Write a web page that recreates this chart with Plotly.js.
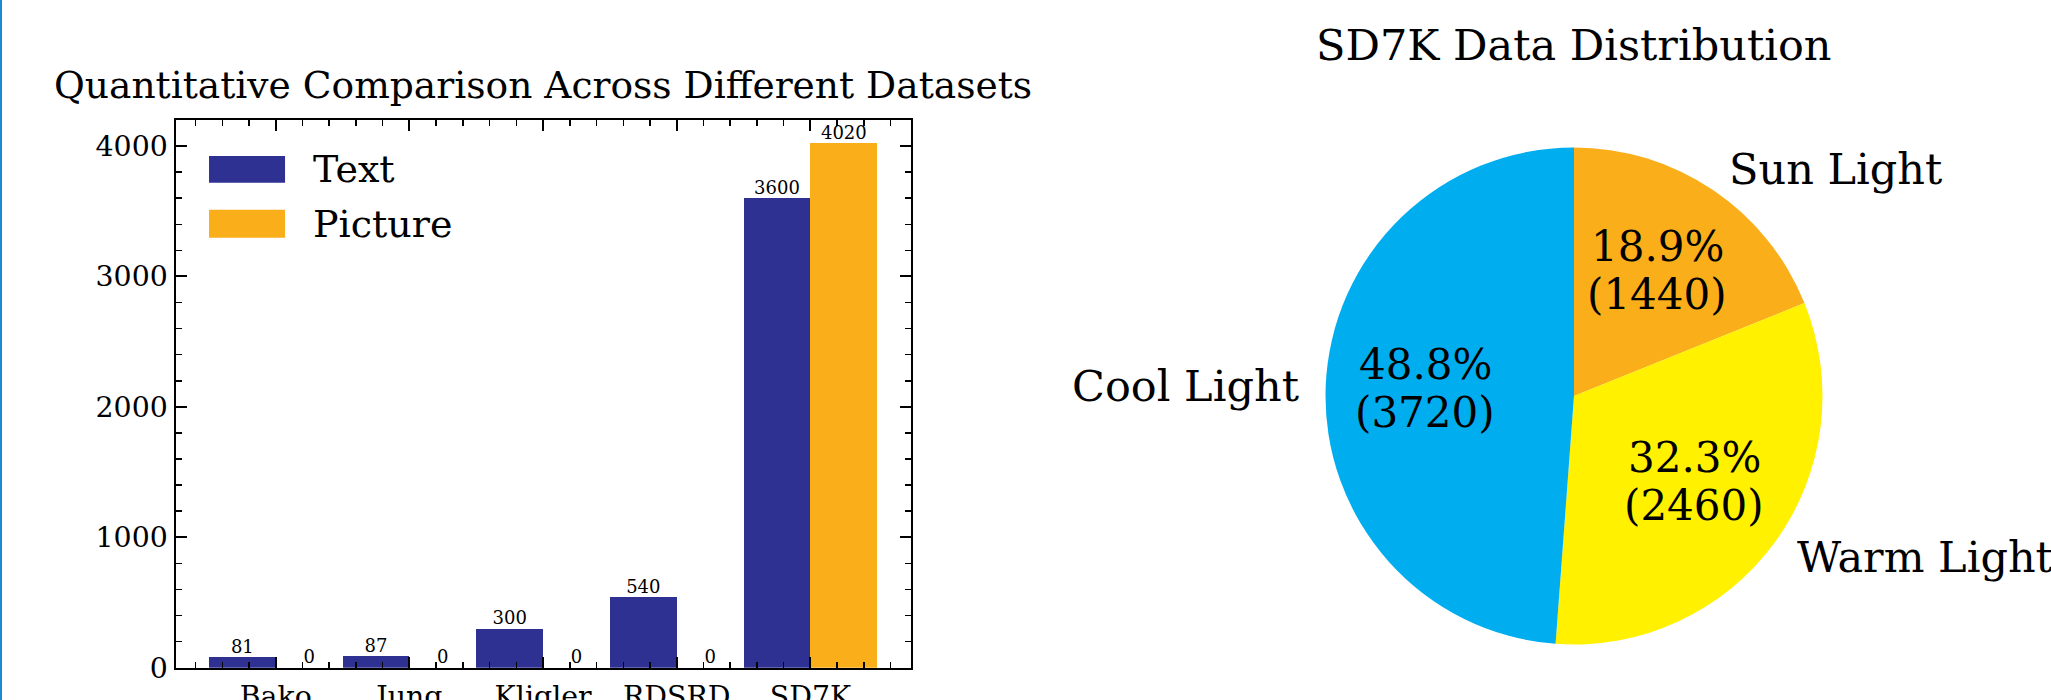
<!DOCTYPE html>
<html>
<head>
<meta charset="utf-8">
<script src="https://cdn.plot.ly/plotly-3.0.1.min.js"></script>
<style>
  html, body { margin: 0; padding: 0; background: #fff; }
  #chart { width: 2051px; height: 700px; }
</style>
</head>
<body>
<div id="chart"></div>
<script>
// ---------- data ----------
const categories = ['Bako', 'Jung', 'Kligler', 'RDSRD', 'SD7K'];
const textCounts = [81, 87, 300, 540, 3600];
const pictureCounts = [0, 0, 0, 0, 4020];
const seriesNames = ['Text', 'Picture'];
const yTickVals = [0, 1000, 2000, 3000, 4000];

const pieLabels = ['Sun Light', 'Warm Light', 'Cool Light'];
const pieValues = [1440, 2460, 3720];

const barTitle = 'Quantitative Comparison Across Different Datasets';
const pieTitle = 'SD7K Data Distribution';

// ---------- style ----------
const W = 2051, H = 700;
const FONT = 'DejaVu Serif, Liberation Serif, serif';
const barColors = ['#2e3192', '#faaf1a'];
const pieColors = ['#faaf1a', '#fff100', '#00aeef'];

const xDomain = [175.5 / W, 910.7 / W];
const yDomain = [32.3 / H, 580 / H];
const pieDomainX = [1325.5 / W, 1822.5 / W];
const pieDomainY = [55.5 / H, 552.5 / H];

const xIdx = categories.map((_, i) => i);
const barW = 0.5;

const traces = [
  {
    type: 'bar', name: seriesNames[0], x: xIdx, y: textCounts,
    marker: { color: barColors[0], line: { width: 0 } },
    showlegend: false, hoverinfo: 'skip'
  },
  {
    type: 'bar', name: seriesNames[1], x: xIdx, y: pictureCounts,
    marker: { color: barColors[1], line: { width: 0 } },
    showlegend: false, hoverinfo: 'skip'
  },
  // value labels above bars
  {
    type: 'scatter', mode: 'text', x: xIdx.map(v => v - barW / 2), y: textCounts,
    text: textCounts.map(String), textposition: 'top center',
    textfont: { family: FONT, size: 18, color: '#000' },
    cliponaxis: false, showlegend: false, hoverinfo: 'skip'
  },
  {
    type: 'scatter', mode: 'text', x: xIdx.map(v => v + barW / 2), y: pictureCounts,
    text: pictureCounts.map(String), textposition: 'top center',
    textfont: { family: FONT, size: 18, color: '#000' },
    cliponaxis: false, showlegend: false, hoverinfo: 'skip'
  },
  {
    type: 'pie', labels: pieLabels, values: pieValues, sort: false,
    direction: 'clockwise', rotation: 0,
    marker: { colors: pieColors, line: { width: 0 } },
    textinfo: 'none', showlegend: false, hoverinfo: 'skip',
    domain: { x: pieDomainX, y: pieDomainY }
  }
];

// ---------- annotations & shapes ----------
const annotations = [];
const shapes = [];

// titles
annotations.push({
  text: barTitle, xref: 'paper', yref: 'paper',
  x: (xDomain[0] + xDomain[1]) / 2, y: 1 - 85 / H,
  xanchor: 'center', yanchor: 'middle', showarrow: false,
  font: { family: FONT, size: 37.6, color: '#000' }
});
annotations.push({
  text: pieTitle, xref: 'paper', yref: 'paper',
  x: (pieDomainX[0] + pieDomainX[1]) / 2, y: 1 - 45 / H,
  xanchor: 'center', yanchor: 'middle', showarrow: false,
  font: { family: FONT, size: 43, color: '#000' }
});

// custom legend (upper left inside bar axes)
const legendRows = [[0.9343, 0.8855], [0.8360, 0.7848]];
seriesNames.forEach((nm, i) => {
  shapes.push({
    type: 'rect', xref: 'x domain', yref: 'y domain',
    x0: 0.0456, x1: 0.149, y0: legendRows[i][1], y1: legendRows[i][0],
    fillcolor: barColors[i], line: { width: 0 }
  });
  annotations.push({
    text: nm, xref: 'x domain', yref: 'y domain',
    x: 0.1843, y: (legendRows[i][0] + legendRows[i][1]) / 2,
    xanchor: 'left', yanchor: 'middle', showarrow: false,
    font: { family: FONT, size: 38, color: '#000' }
  });
});

// pie labels computed from values (matplotlib-like placement)
const total = pieValues.reduce((a, b) => a + b, 0);
const cxPx = (pieDomainX[0] + pieDomainX[1]) / 2 * W;
const cyPx = (1 - (pieDomainY[0] + pieDomainY[1]) / 2) * H;
const rPx = Math.min((pieDomainX[1] - pieDomainX[0]) * W, (pieDomainY[1] - pieDomainY[0]) * H) / 2;
let cum = 0;
pieValues.forEach((v, i) => {
  const th = (cum + v / 2) / total * 2 * Math.PI;
  cum += v;
  const s = Math.sin(th), c = Math.cos(th);
  // outer label at 1.1 r
  const lx = cxPx + 1.1 * rPx * s, ly = cyPx - 1.1 * rPx * c;
  annotations.push({
    text: pieLabels[i], xref: 'paper', yref: 'paper',
    x: lx / W, y: 1 - ly / H,
    xanchor: s >= 0 ? 'left' : 'right', yanchor: 'middle', showarrow: false,
    font: { family: FONT, size: 43, color: '#000' }
  });
  // inner pct label at 0.6 r (two lines)
  const px = cxPx + 0.6 * rPx * s, py = cyPx - 0.6 * rPx * c;
  const pct = (v / total * 100).toFixed(1) + '%';
  const lines = [[pct, -26], ['(' + v + ')', 22]];
  lines.forEach(([t, off]) => {
    annotations.push({
      text: t, xref: 'paper', yref: 'paper',
      x: px / W, y: 1 - (py + off) / H,
      xanchor: 'center', yanchor: 'middle', showarrow: false,
      font: { family: FONT, size: 42, color: '#000' }
    });
  });
});

// left border line of the image
shapes.push({
  type: 'line', xref: 'paper', yref: 'paper', x0: 0, x1: 0, y0: 0, y1: 1,
  line: { color: '#1a8ad2', width: 4 }
});

const axisCommon = {
  showline: true, linecolor: '#000', linewidth: 2, mirror: 'allticks',
  ticks: 'inside', ticklen: 11, tickwidth: 2, tickcolor: '#000',
  showgrid: false, zeroline: false,
  tickfont: { family: FONT, size: 28.4, color: '#000' }
};

const layout = {
  width: W, height: H,
  margin: { l: 0, r: 0, t: 0, b: 0, pad: 0 },
  paper_bgcolor: '#fff', plot_bgcolor: '#fff',
  barmode: 'group', bargap: 0, bargroupgap: 0,
  showlegend: false,
  xaxis: Object.assign({}, axisCommon, {
    domain: xDomain, range: [-0.75, 4.75], type: 'linear',
    tickmode: 'array', tickvals: xIdx, ticktext: categories,
    ticklabelstandoff: 2,
    minor: { ticks: 'inside', ticklen: 6, tickwidth: 1.5, tickcolor: '#000', dtick: 0.2, tick0: 0, showgrid: false }
  }),
  yaxis: Object.assign({}, axisCommon, {
    domain: yDomain, range: [0, 4200],
    tickmode: 'array', tickvals: yTickVals,
    ticklabelstandoff: 9.5,
    minor: { ticks: 'inside', ticklen: 6, tickwidth: 1.5, tickcolor: '#000', dtick: 200, tick0: 0, showgrid: false }
  }),
  annotations: annotations,
  shapes: shapes
};

Plotly.newPlot('chart', traces, layout, { staticPlot: true, displayModeBar: false });
</script>
</body>
</html>
